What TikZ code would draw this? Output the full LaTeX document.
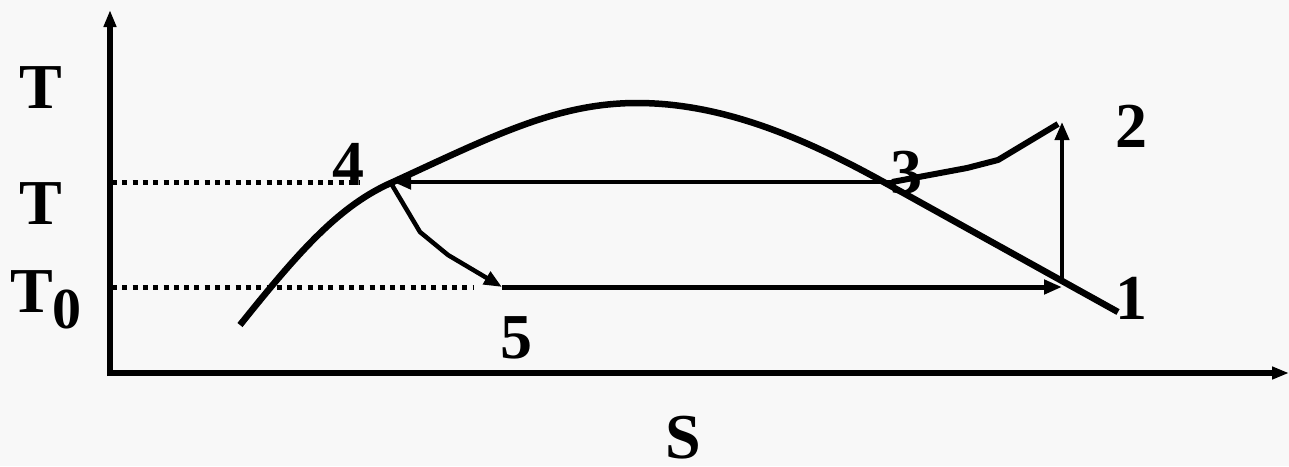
\documentclass[tikz,border=0pt]{standalone}
\usepackage{fontspec}
\setmainfont{Liberation Serif}
\usetikzlibrary{arrows.meta}
\definecolor{bgc}{HTML}{F8F8F8}
\begin{document}
\begin{tikzpicture}[x=1pt,y=-1pt,
  lbl/.style={font=\fontsize{64}{64}\selectfont\bfseries, inner sep=0pt, text=black},
  axisline/.style={line width=5.5pt, -{Triangle[length=17pt,width=12pt]}},
  dotline/.style={line width=5pt, dash pattern=on 5pt off 5.3pt},
  dome/.style={line width=6.5pt, line cap=butt},
  procarrow/.style={line width=4.5pt, line join=round, -{Triangle[length=18pt,width=14pt]}},
  procline/.style={line width=6pt, line join=round}]
\fill[bgc] (0,0) rectangle (1289,466);
\useasboundingbox (0,0) rectangle (1289,466);
% axes
\coordinate (O) at (110,373);
\coordinate (Ytip) at (110,10);
\coordinate (Xtip) at (1289,373);
\draw[axisline] (110,376) -- (Ytip);
\draw[axisline] (108,373) -- (Xtip);
% state points
\coordinate (p4) at (393,182);
\coordinate (p3) at (892,182);
\coordinate (p2) at (1062,122);
\coordinate (p1) at (1062,278);
\coordinate (p1b) at (1062,287);
\coordinate (p5) at (502,287);
% dotted levels
\draw[dotline] (112,182) -- (360,182);
\draw[dotline] (112,287) -- (473,287);
% saturation dome
\draw[dome] (240,325) .. controls (300,250) and (340,205) .. (393,182)
  .. controls (493,136) and (557,103) .. (637,103)
  .. controls (720,103) and (800,136) .. (880,180) -- (1118,312);
% processes
\draw[procarrow, line width=4.5pt] (p3) -- (p4);
\draw[procline] (p3) -- (967,168) -- (998,160) -- (1058,124);
\draw[procarrow, line width=4pt] (p1) -- (p2);
\draw[procarrow, line width=5pt] (p5) -- (p1b);
\draw[procarrow] (392,185) -- (420,232) -- (448,255) -- (p5);
% labels
\node[lbl] (lT) at (41,88) {T};
\node[lbl] (lT1) at (41,204) {T};
\node[lbl, anchor=base west] (lT0) at (10,312) {T\raisebox{-16pt}{\fontsize{58}{58}\selectfont 0}};
\node[lbl] (lS) at (683,438) {S};
\node[lbl] (l4) at (348,164) {4};
\node[lbl] (l3) at (906,173) {3};
\node[lbl] (l2) at (1131,126) {2};
\node[lbl] (l1) at (1131,298) {1};
\node[lbl] (l5) at (516,338) {5};
\end{tikzpicture}
\end{document}
